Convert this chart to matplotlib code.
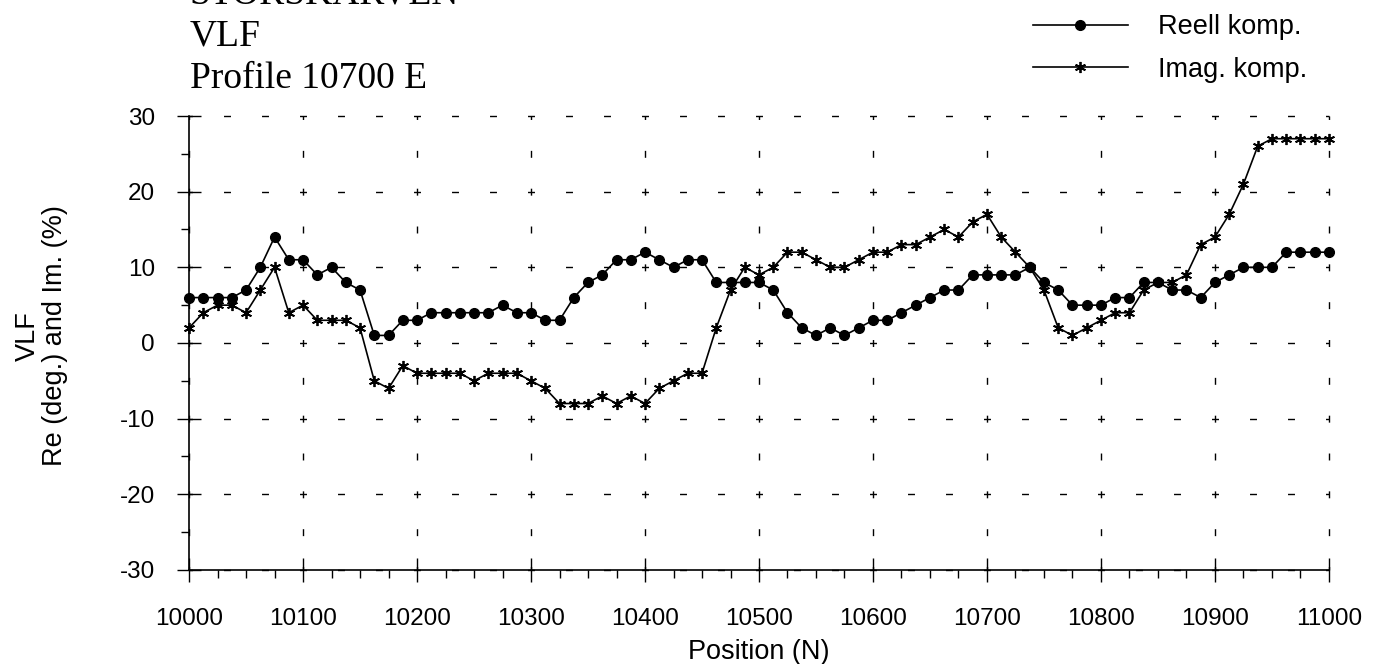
import numpy as np
from matplotlib import pyplot as plt
from matplotlib.ticker import MultipleLocator

# positions along the profile (N), every 12.5 m
position = np.arange(10000, 11000.1, 12.5)

reell = [6, 6, 6, 6, 7, 10, 14, 11, 11, 9, 10, 8, 7, 1, 1, 3, 3,
         4, 4, 4, 4, 4, 5, 4, 4, 3, 3, 6, 8, 9, 11, 11, 12,
         11, 10, 11, 11, 8, 8, 8, 8, 7, 4, 2, 1, 2, 1, 2, 3,
         3, 4, 5, 6, 7, 7, 9, 9, 9, 9, 10, 8, 7, 5, 5, 5,
         6, 6, 8, 8, 7, 7, 6, 8, 9, 10, 10, 10, 12, 12, 12, 12]

imag = [2, 4, 5, 5, 4, 7, 10, 4, 5, 3, 3, 3, 2, -5, -6, -3, -4,
        -4, -4, -4, -5, -4, -4, -4, -5, -6, -8, -8, -8, -7, -8, -7, -8,
        -6, -5, -4, -4, 2, 7, 10, 9, 10, 12, 12, 11, 10, 10, 11, 12,
        12, 13, 13, 14, 15, 14, 16, 17, 14, 12, 10, 7, 2, 1, 2, 3,
        4, 4, 7, 8, 8, 9, 13, 14, 17, 21, 26, 27, 27, 27, 27, 27]

title_lines = ['STORSKARVEN', 'VLF', 'Profile 10700 E']

plt.rcParams['font.family'] = ['Liberation Sans', 'DejaVu Sans']
plt.rcParams['axes.unicode_minus'] = False

fig = plt.figure(figsize=(13.8, 6.64), dpi=100)
ax = fig.add_axes([0.1370, 0.1416, 0.8260, 0.6837])

ax.plot(position, reell, color='black', lw=1.2, marker='o', markersize=7,
        label='Reell komp.', clip_on=False, zorder=3)
ax.plot(position, imag, color='black', lw=1.2, marker=(6, 2, 0), markersize=8,
        markeredgewidth=1.3, label='Imag. komp.', clip_on=False, zorder=3)

ax.set_xlim(10000, 11000)
ax.set_ylim(-30, 30)
ax.xaxis.set_major_locator(MultipleLocator(100))
ax.xaxis.set_minor_locator(MultipleLocator(25))
ax.yaxis.set_major_locator(MultipleLocator(10))
ax.yaxis.set_minor_locator(MultipleLocator(5))

ax.spines['top'].set_visible(False)
ax.spines['right'].set_visible(False)
ax.spines['left'].set_linewidth(1.2)
ax.spines['bottom'].set_linewidth(1.2)

ax.tick_params(which='major', direction='inout', length=17, width=1.0,
               labelsize=17.5)
ax.tick_params(which='minor', direction='out', length=6, width=1.0)
ax.tick_params(axis='y', which='major', pad=16)
ax.tick_params(axis='x', which='major', pad=19)

# dashed grid, dashes centred on the crossings
ax.grid(True, which='major', color='black', lw=1.0)
for gl in ax.yaxis.get_gridlines():
    gl.set_linestyle((2.5, (5, 22.36)))
    gl.set_clip_on(False)
for gl in ax.xaxis.get_gridlines():
    gl.set_linestyle((2.5, (5, 22.24)))
    gl.set_clip_on(False)
ax.set_axisbelow(True)

ax.set_xlabel('Position (N)', fontsize=19.5, labelpad=6)

fig.text(0.0300, 0.494, 'VLF\nRe (deg.) and Im. (%)', rotation=90,
         ha='center', va='center', fontsize=19.5, multialignment='center',
         linespacing=1.1)

for txt, yb in zip(title_lines, [3, 46, 88]):
    fig.text(190 / 1380, 1 - yb / 664, txt, family='Liberation Serif',
             fontsize=27, va='baseline', ha='left')

fig.legend(loc='center left', bbox_to_anchor=(1033 / 1380, 1 - 48.5 / 664),
           frameon=False, fontsize=19.5, numpoints=1, handlelength=3.5,
           handletextpad=1.1, labelspacing=0.62, borderpad=0, borderaxespad=0)

fig.savefig('out.png', dpi=100)
